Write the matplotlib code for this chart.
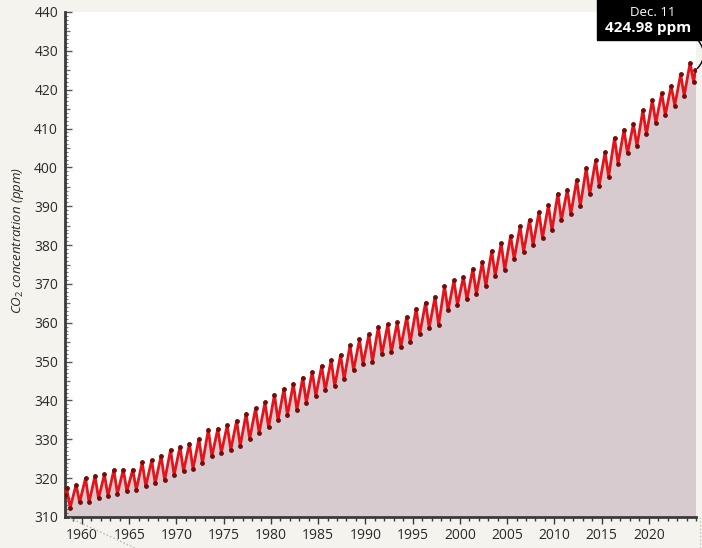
import numpy as np
import matplotlib.pyplot as plt
from matplotlib.ticker import MultipleLocator, FixedLocator, NullFormatter
from matplotlib.patches import Rectangle
from matplotlib.lines import Line2D

plt.rcParams['font.family'] = ['Open Sans', 'DejaVu Sans']
plt.rcParams['mathtext.fontset'] = 'custom'
plt.rcParams['mathtext.rm'] = 'Open Sans'
plt.rcParams['mathtext.it'] = 'Open Sans:italic'

# Mauna Loa CO2 (ppm): yearly spring maximum (May) and autumn minimum (Sep/Oct)
years = list(range(1958, 2025))
may_peak = [317.5, 318.3, 320.0, 320.6, 321.0, 322.1, 322.2, 322.2, 324.1, 324.6,
            325.8, 327.3, 328.1, 328.9, 330.1, 332.5, 332.7, 333.6, 334.8, 336.6,
            338.0, 339.5, 341.5, 343.0, 344.3, 345.9, 347.4, 348.9, 350.4, 351.7,
            354.2, 355.7, 357.0, 359.0, 359.6, 360.1, 361.5, 363.6, 365.2, 366.7,
            369.5, 370.9, 371.8, 373.9, 375.6, 378.5, 380.5, 382.4, 384.8, 386.5,
            388.5, 390.2, 393.2, 394.2, 396.8, 399.8, 401.8, 403.9, 407.6, 409.7,
            411.2, 414.7, 417.3, 419.1, 421.0, 424.0, 426.9]
autumn_low = [312.4, 313.8, 313.8, 314.8, 315.4, 316.0, 316.6, 317.0, 317.9, 318.7,
              319.4, 320.8, 321.8, 322.4, 323.8, 325.6, 326.6, 327.3, 328.3, 330.1,
              331.6, 333.1, 334.9, 336.2, 337.6, 339.4, 341.2, 342.6, 343.7, 345.5,
              347.8, 349.4, 350.0, 351.9, 352.4, 353.8, 355.0, 357.1, 358.7, 359.4,
              363.2, 364.6, 366.0, 367.4, 369.5, 372.1, 373.6, 376.4, 378.3, 380.0,
              381.8, 383.8, 386.4, 388.0, 390.0, 393.1, 395.3, 397.6, 401.0, 403.6,
              405.5, 408.5, 411.5, 413.5, 415.9, 418.5, 422.0]
first_value = 315.7    # March 1958
latest_value = 424.98  # Dec. 11, 2024
latest_label = 'Dec. 11'
year_ticks = [1960, 1965, 1970, 1975, 1980, 1985, 1990, 1995, 2000, 2005, 2010, 2015, 2020]

t = [1958 + 2.5 / 12]
co2 = [first_value]
for yr, hi, lo in zip(years, may_peak, autumn_low):
    t += [yr + 4.5 / 12, yr + 9.0 / 12]
    co2 += [hi, lo]
t.append(2024 + 11.35 / 12)
co2.append(latest_value)

W, H = 702, 548
fig = plt.figure(figsize=(W / 100, H / 100), dpi=100, facecolor='#f4f3ed')
ax = fig.add_axes([65 / W, 31 / H, 631 / W, 505 / H])
ax.set_facecolor('white')

ax.fill_between(t, co2, 310, color='#d8cbcf', lw=0, zorder=1)
ax.plot(t, co2, color='#e3141b', lw=2.0, zorder=3)
ax.plot(t, co2, ls='none', marker='o', ms=2.8, mfc='#7a0a0a', mec='#7a0a0a',
        mew=0.6, zorder=4)

ax.set_xlim(1958.2, 2025.0)
ax.set_ylim(310, 440)

for side in ('top', 'right'):
    ax.spines[side].set_visible(False)
for side in ('left', 'bottom'):
    ax.spines[side].set_color('#3a3a3a')
    ax.spines[side].set_linewidth(2)

ax.xaxis.set_major_locator(FixedLocator(year_ticks))
ax.xaxis.set_minor_locator(MultipleLocator(1))
ax.yaxis.set_major_locator(MultipleLocator(10))
ax.yaxis.set_minor_locator(MultipleLocator(1))
ax.tick_params(axis='x', which='major', direction='out', length=5, width=1,
               color='#3a3a3a', labelsize=10, labelcolor='#2a2a2a', pad=3)
ax.tick_params(axis='x', which='minor', direction='out', length=3, width=1, color='#3a3a3a')
ax.tick_params(axis='y', which='major', direction='in', length=5, width=1,
               color='#555555', labelsize=10, labelcolor='#2a2a2a', pad=5)
ax.tick_params(axis='y', which='minor', direction='in', length=2, width=0.8, color='#777777')

# mid ticks every 5 ppm
sec = ax.secondary_yaxis('left')
sec.set_yticks(np.arange(315, 440, 10))
sec.yaxis.set_major_formatter(NullFormatter())
sec.tick_params(direction='in', length=3.5, width=0.9, color='#666666')
sec.spines['left'].set_visible(False)

fig.text(18 / W, 1 - 240 / H, r'CO$_2$ concentration (ppm)', rotation=90,
         ha='center', va='center', fontsize=9.5, style='italic', color='#2a2a2a')

# latest reading callout
fig.patches.append(Rectangle((597 / W, 1 - 40 / H), 110 / W, 41 / H,
                             transform=fig.transFigure, color='black', zorder=5))
fig.text(653 / W, 1 - 12 / H, latest_label, color='white', ha='center', va='center',
         fontsize=9.5, zorder=6)
fig.text(605 / W, 1 - 28 / H, f'{latest_value:.2f} ppm', color='white', ha='left',
         va='center', fontsize=11, weight='bold', zorder=6)
ax.annotate('', xy=(t[-1], co2[-1]), xycoords='data',
            xytext=(698, H - 40), textcoords='figure pixels',
            arrowprops=dict(arrowstyle='-', color='black', lw=1,
                            connectionstyle='arc3,rad=-0.45', shrinkA=0, shrinkB=2),
            annotation_clip=False)

# faint dotted guides at the lower edge
fig.add_artist(Line2D([70 / W, 135 / W], [30 / H, 0], color='#b5b5b5', ls=':', lw=1))
fig.add_artist(Line2D([700 / W, 700 / W], [0, 31 / H], color='#c0c0c0', ls=':', lw=1))

fig.savefig('out.png', dpi=100, facecolor=fig.get_facecolor())
